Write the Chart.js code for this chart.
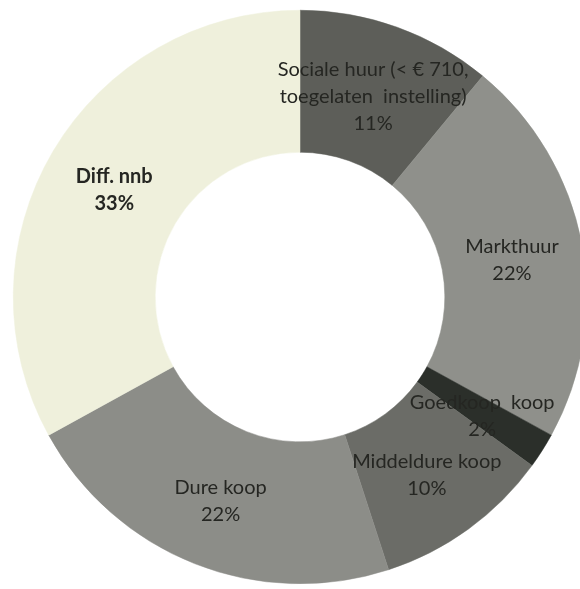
<!DOCTYPE html>
<html>
<head>
<meta charset="utf-8">
<script src="https://cdn.jsdelivr.net/npm/chart.js@4.4.1/dist/chart.umd.min.js"></script>
<style>
  html, body { margin: 0; padding: 0; background: #fff; overflow: hidden; }
  #wrap { position: absolute; left: 0; top: 0; width: 600px; height: 594px; }
</style>
</head>
<body>
<div id="wrap"><canvas id="woningChart"></canvas></div>
<script>
// woningbouwprogramma per segment (aandeel in %)
var labels = [
    ['Sociale huur (< € 710,', 'toegelaten  instelling)'],
    ['Markthuur'],
    ['Goedkoop  koop'],
    ['Middeldure koop'],
    ['Dure koop'],
    ['Diff. nnb']
];
var values = [11, 22, 2, 10, 22, 33];
var colors = ['#5d5e59', '#8f908b', '#2b2f2a', '#6b6c67', '#8c8d88', '#eff0dc'];
var boldLabel = [false, false, false, false, false, true];

var ctx = document.getElementById('woningChart').getContext('2d');

// tekst in het midden van elk segment
var sliceLabels = {
    id: 'sliceLabels',
    afterDatasetsDraw: function (chart) {
        var meta = chart.getDatasetMeta(0);
        var total = values.reduce((a, b) => a + b, 0);
        var c = chart.ctx;
        c.save();
        c.textAlign = 'center';
        c.textBaseline = 'middle';
        c.fillStyle = '#252622';
        meta.data.forEach(function (arc, i) {
            var pos = arc.tooltipPosition();
            var lines = labels[i].concat([Math.round(values[i] / total * 100) + '%']);
            c.font = (boldLabel[i] ? 'bold ' : '') + '20px Lato';
            var lh = 27;
            var y0 = pos.y - (lines.length - 1) * lh / 2 + 3;
            lines.forEach(function (t, k) {
                c.fillText(t, pos.x, y0 + k * lh);
            });
        });
        c.restore();
    }
};

var woningChart = new Chart(ctx, {
    type: 'doughnut',
    data: {
        labels: labels.map(l => l.join(' ')),
        datasets: [{
            data: values,
            backgroundColor: colors,
            borderColor: colors,
            borderWidth: 0.5
        }]
    },
    options: {
        responsive: true,
        maintainAspectRatio: false,
        animation: false,
        cutout: '50.5%',
        layout: { padding: 10 },
        plugins: {
            legend: { display: false },
            tooltip: { enabled: false }
        }
    },
    plugins: [sliceLabels]
});
</script>
</body>
</html>
